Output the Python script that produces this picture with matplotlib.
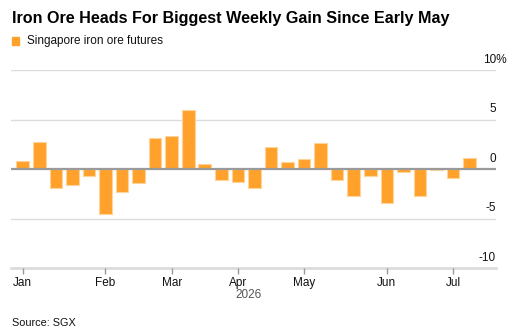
import matplotlib
matplotlib.use("Agg")
import matplotlib.pyplot as plt
import pandas as pd

plt.rcParams['font.family'] = ['Liberation Sans', 'DejaVu Sans']

# Weekly (Friday) observations, 2026
week_dates = ["2026-01-02", "2026-01-09", "2026-01-16", "2026-01-23", "2026-01-30",
              "2026-02-06", "2026-02-13", "2026-02-20", "2026-02-27",
              "2026-03-06", "2026-03-13", "2026-03-20", "2026-03-27",
              "2026-04-03", "2026-04-10", "2026-04-17", "2026-04-24",
              "2026-05-01", "2026-05-08", "2026-05-15", "2026-05-22", "2026-05-29",
              "2026-06-05", "2026-06-12", "2026-06-19", "2026-06-26",
              "2026-07-03", "2026-07-10"]
weekly_change = [0.85, 2.75, -1.95, -1.65, -0.75, -4.55, -2.3, -1.4,
                 3.1, 3.3, 6.0, 0.5, -1.15, -1.3, -1.9,
                 2.2, 0.75, 1.0, 2.6, -1.15, -2.7, -0.75, -3.45,
                 -0.3, -2.7, -0.1, -0.95, 1.1]
y_ticks = [-10, -5, 0, 5, 10]
y_tick_labels = ["-10", "-5", "0", "5", "10%"]
year_label = "2026"

title = "Iron Ore Heads For Biggest Weekly Gain Since Early May"
legend_label = "Singapore iron ore futures"
source = "Source: SGX"

bar_color = "#FFA12B"
edge_color = "#FFD49A"

fig = plt.figure(figsize=(5.21, 3.36), dpi=100)
W, H = 521, 336
left, right, top, bottom = 11, 496, 70, 268
ax = fig.add_axes([left / W, 1 - bottom / H, (right - left) / W, (bottom - top) / H])

dates = pd.to_datetime(week_dates)
x = list(range(len(dates)))
ax.bar(x, weekly_change, width=0.76, color=bar_color, edgecolor=edge_color,
       linewidth=0.8, zorder=3)

ax.set_xlim(-0.71, 28.6)
ax.set_ylim(-10, 10)

# gridlines
for yt in y_ticks:
    if yt == 0:
        ax.axhline(0, color="#9a9a9a", lw=1.6, zorder=4)
    elif yt == -10:
        ax.axhline(yt, color="#dcdcdc", lw=2.0, zorder=1, clip_on=False)
    else:
        ax.axhline(yt, color="#dcdcdc", lw=1.0, zorder=1)

for s in ax.spines.values():
    s.set_visible(False)
ax.set_yticks([])

# right-side y labels above gridlines
for yt, lab in zip(y_ticks, y_tick_labels):
    if lab.endswith("%"):
        ax.annotate(lab, xy=(1, yt), xycoords=("axes fraction", "data"),
                    xytext=(-9.5, 3), textcoords="offset points",
                    ha="left", va="bottom", fontsize=8.5, color="#111111")
    else:
        ax.annotate(lab, xy=(1, yt), xycoords=("axes fraction", "data"),
                    xytext=(0, 3), textcoords="offset points",
                    ha="right", va="bottom", fontsize=8.5, color="#111111")

# month ticks at first week of each month
tick_pos, tick_labs = [], []
prev = None
for i, d in enumerate(dates):
    if d.month != prev:
        tick_pos.append(i)
        tick_labs.append(d.strftime("%b"))
        prev = d.month
ax.set_xticks(tick_pos)
ax.set_xticklabels(tick_labs, fontsize=8.5, color="#111111")
ax.tick_params(axis="x", length=4, width=1, color="#999999", pad=2.5)

fig.text(249 / W, 1 - 294.5 / H, year_label, ha="center", va="center",
         fontsize=8.5, color="#555555")

fig.text(12 / W, 1 - 19 / H, title, ha="left", va="center",
         fontsize=11.6, fontweight="bold", color="#000000")
fig.patches.append(plt.Rectangle((12 / W, 1 - 44.5 / H), 7 / W, 7 / H,
                                 transform=fig.transFigure, color=bar_color))
fig.text(27 / W, 1 - 41 / H, legend_label, ha="left", va="center",
         fontsize=8.5, color="#111111")
fig.text(12 / W, 1 - 323 / H, source, ha="left", va="center",
         fontsize=7.8, color="#111111")

fig.savefig("out.png", dpi=100)
